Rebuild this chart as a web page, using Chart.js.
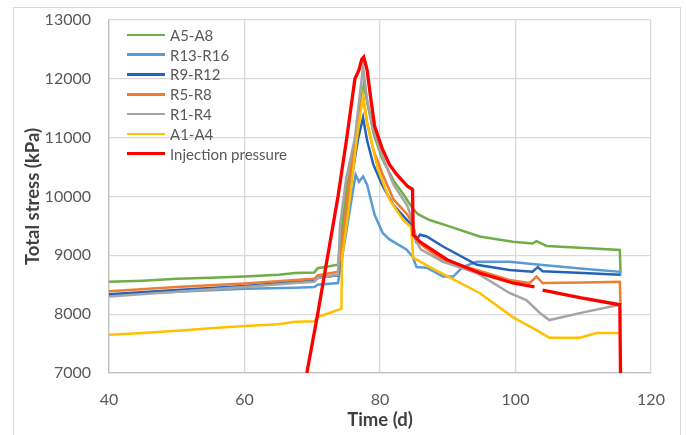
<!DOCTYPE html>
<html>
<head>
<meta charset="utf-8">
<script src="https://cdn.jsdelivr.net/npm/chart.js@4"></script>
<style>
    body { margin: 0; background: #fff; }
    #wrap { position: relative; width: 686px; height: 435px; font-family: Lato, "Liberation Sans", sans-serif; }
    #frame { position: absolute; left: 13px; top: 7px; width: 668px; height: 440px; border: 1px solid #d9d9d9; box-sizing: border-box; }
    #legend { position: absolute; left: 127px; top: 25px; font-size: 15px; color: #595959; }
    .row { height: 19.8px; display: flex; align-items: center; }
    .swatch { width: 38px; height: 2.5px; margin-right: 5px; }
</style>
</head>
<body>
<div id="wrap">
    <div id="frame"></div>
    <canvas id="stressChart" width="686" height="435"></canvas>
    <div id="legend"></div>
</div>
<script>
// values (time in days, stress in kPa)
const xTicks = [40, 60, 80, 100, 120];
const yTicks = [7000, 8000, 9000, 10000, 11000, 12000, 13000];

const a5a8Days = [40, 45, 50, 55, 60, 65, 67.5, 70.3, 70.8, 73.8, 74.2, 75.1, 76.4, 77.1, 77.6, 78.2, 79.1, 80.3, 82.0, 83.5, 84.8, 85.6, 87.3, 90.0, 94.7, 99.6, 102.5, 103.1, 104.6, 109.5, 115.4, 115.5];
const a5a8Stress = [8550, 8570, 8600, 8620, 8640, 8670, 8700, 8710, 8780, 8840, 9300, 10150, 10900, 11550, 11900, 11550, 11050, 10650, 10270, 10030, 9800, 9700, 9600, 9500, 9320, 9230, 9200, 9240, 9160, 9130, 9090, 8700];

const r13r16Days = [40, 50, 60, 67.5, 70.3, 70.8, 73.8, 74.4, 75.5, 76.4, 76.9, 77.5, 78.1, 79.2, 80.4, 81.4, 83.9, 84.8, 85.4, 86.9, 89.3, 90.8, 92.2, 94.3, 99.1, 103.6, 110, 115.4, 115.5];
const r13r16Stress = [8330, 8380, 8430, 8450, 8460, 8500, 8530, 8960, 9740, 10370, 10250, 10340, 10200, 9690, 9380, 9270, 9100, 8980, 8800, 8790, 8640, 8640, 8800, 8890, 8890, 8840, 8770, 8720, 8650];

const r9r12Days = [40, 50, 60, 67.5, 70.3, 70.8, 73.8, 74.8, 75.8, 76.8, 77.5, 78.1, 79.0, 80.3, 82.0, 84.0, 84.8, 85.3, 85.9, 86.9, 89.3, 94.3, 99.1, 102.5, 103.3, 104.0, 110, 115.4];
const r9r12Stress = [8340, 8410, 8480, 8550, 8570, 8620, 8660, 9350, 10300, 11000, 11340, 10950, 10550, 10200, 9850, 9600, 9500, 9250, 9350, 9320, 9150, 8840, 8750, 8720, 8800, 8730, 8700, 8670];

const r5r8Days = [40, 50, 60, 67.5, 70.3, 70.8, 73.8, 74.6, 75.6, 76.6, 77.5, 78.1, 79.0, 80.3, 82.0, 84.0, 84.8, 85.4, 87.0, 89.3, 94.3, 99.1, 102.1, 103.1, 104.0, 110, 115.4, 115.5];
const r5r8Stress = [8390, 8460, 8520, 8580, 8600, 8660, 8720, 9400, 10400, 11200, 11700, 11250, 10800, 10400, 9950, 9700, 9550, 9250, 9100, 8925, 8750, 8580, 8530, 8640, 8530, 8540, 8550, 8160];

const r1r4Days = [40, 50, 60, 67.5, 70.3, 70.8, 73.8, 74.1, 75.0, 76.3, 77.0, 77.5, 78.1, 79.0, 80.3, 82.0, 84.0, 84.8, 85.3, 86.0, 89.3, 94.3, 99.1, 101.6, 103.6, 105.0, 110, 115.4];
const r1r4Stress = [8300, 8380, 8460, 8530, 8550, 8610, 8670, 9500, 10300, 11000, 11700, 12200, 11650, 11150, 10700, 10200, 9850, 9600, 9250, 9100, 8890, 8700, 8360, 8240, 8020, 7900, 8030, 8160];

const a1a4Days = [40, 45, 50, 55, 60, 65, 67.5, 70.3, 70.8, 73.8, 74.3, 74.4, 75.2, 76.6, 77.5, 78.1, 79.7, 81.4, 83.4, 84.6, 84.9, 87.3, 94.7, 99.6, 103.1, 105.0, 109.5, 112.0, 115.4];
const a1a4Stress = [7650, 7680, 7720, 7760, 7800, 7830, 7870, 7880, 7950, 8070, 8090, 8960, 9640, 11000, 11700, 11250, 10460, 9950, 9600, 9480, 8960, 8805, 8360, 7950, 7730, 7600, 7600, 7680, 7680];

const injectionDays = [69.2, 70.8, 72.3, 73.8, 75.1, 76.3, 76.9, 77.3, 77.6, 78.1, 78.6, 79.2, 80.3, 81.4, 82.5, 84.1, 84.8, 84.9, 85.9, 89.9, 94.7, 99.6, 102.8, 103.4, 104.0, 109.5, 115.4, 115.5];
const injectionStress = [7000, 8000, 9000, 10000, 11000, 12000, 12150, 12330, 12370, 12150, 11700, 11200, 10820, 10540, 10370, 10170, 10120, 9350, 9230, 8925, 8700, 8530, 8465, null, 8410, 8280, 8160, 7000];

const seriesLabels = ['A5-A8', 'R13-R16', 'R9-R12', 'R5-R8', 'R1-R4', 'A1-A4', 'Injection pressure'];
const seriesColors = ['#70AD47', '#5B9BD5', '#2463B8', '#ED7D31', '#A5A5A5', '#FFC000', '#FF0000'];
const seriesDays = [a5a8Days, r13r16Days, r9r12Days, r5r8Days, r1r4Days, a1a4Days, injectionDays];
const seriesStress = [a5a8Stress, r13r16Stress, r9r12Stress, r5r8Stress, r1r4Stress, a1a4Stress, injectionStress];

const FONT = 'Lato, "Liberation Sans", sans-serif';

function buildDatasets() {
    return seriesLabels.map(function(label, i) {
        return {
            label: label,
            data: seriesDays[i].map((d, k) => ({ x: d, y: seriesStress[i][k] })),
            borderColor: seriesColors[i],
            backgroundColor: seriesColors[i],
            borderWidth: i === 6 ? 3.3 : 2.5,
            pointRadius: 0,
            tension: 0,
            spanGaps: false,
            order: 6 - i   // later series drawn on top, like the original
        };
    });
}

function buildLegend() {
    const legend = document.getElementById('legend');
    seriesLabels.forEach(function(label, i) {
        const row = document.createElement('div');
        row.className = 'row';
        row.innerHTML = `<span class="swatch" style="background:${seriesColors[i]}"></span><span>${label}</span>`;
        legend.appendChild(row);
    });
}

document.addEventListener('DOMContentLoaded', function() {
    buildLegend();
    const ctx = document.getElementById('stressChart').getContext('2d');
    new Chart(ctx, {
        type: 'line',
        data: { datasets: buildDatasets() },
        options: {
            responsive: false,
            animation: false,
            layout: { padding: { left: 14, right: 35, top: 20, bottom: 0 } },
            plugins: { legend: { display: false }, tooltip: { enabled: false } },
            scales: {
                x: {
                    type: 'linear',
                    min: 40,
                    max: 120,
                    afterBuildTicks: function(axis) { axis.ticks = xTicks.map(v => ({ value: v })); },
                    afterFit: function(axis) { axis.height = 62; },
                    grid: { color: '#d9d9d9', lineWidth: 1.3, drawTicks: false },
                    border: { color: '#bfbfbf', width: 1.3 },
                    ticks: { padding: 17, color: '#595959', font: { family: FONT, size: 16 }, callback: v => String(v) },
                    title: {
                        display: true,
                        text: 'Time (d)',
                        color: '#404040',
                        padding: { top: 0, bottom: 4 },
                        font: { family: FONT, size: 18.5, weight: 'bold' }
                    }
                },
                y: {
                    min: 7000,
                    max: 13000,
                    afterBuildTicks: function(axis) { axis.ticks = yTicks.map(v => ({ value: v })); },
                    afterFit: function(axis) {
                        axis.width = 95;
                        // the tick padding is horizontal here, keep it out of the top/bottom overflow
                        axis.paddingTop = 10;
                        axis.paddingBottom = 10;
                    },
                    grid: { color: '#d9d9d9', lineWidth: 1.3, drawTicks: false },
                    border: { color: '#bfbfbf', width: 1.3 },
                    ticks: { padding: 18, color: '#595959', font: { family: FONT, size: 16 }, callback: v => String(v) },
                    title: {
                        display: true,
                        text: 'Total stress (kPa)',
                        color: '#404040',
                        padding: { top: 8, bottom: 0 },
                        font: { family: FONT, size: 18.5, weight: 'bold' }
                    }
                }
            }
        }
    });
});
</script>
</body>
</html>
